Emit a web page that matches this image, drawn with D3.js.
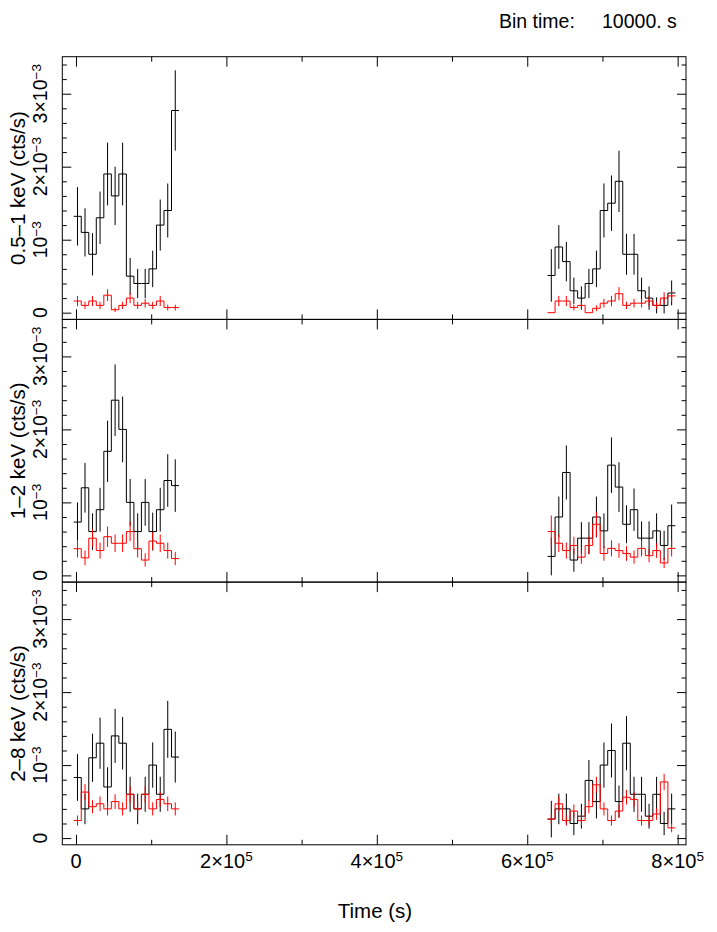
<!DOCTYPE html>
<html>
<head>
<meta charset="utf-8">
<script src="https://cdn.jsdelivr.net/npm/d3@7"></script>
<style>
  body { margin: 0; background: #fff; }
  text { font-family: "Liberation Sans", Arial, Helvetica, sans-serif; fill: #000; }
</style>
</head>
<body>
<div class="chart"></div>
<script>
// bin centres (s), bin size 10000 s, two observing segments
var binTimes = [2000, 12000, 22000, 32000, 42000, 52000, 62000, 72000, 82000, 92000, 102000, 112000, 122000, 132000,
  632000, 642000, 652000, 662000, 672000, 682000, 692000, 702000, 712000, 722000, 732000, 742000, 752000, 762000, 772000, 782000, 792000];
var binSize = 10000;

// rates in units of 1e-3 cts/s ; "src" = black, "bkg" = red
var softSrc = [1.32, 1.10, 0.80, 1.30, 1.90, 1.60, 1.90, 0.50, 0.40, 0.40, 0.60, 1.20, 1.40, 2.77,
  0.51, 0.90, 0.70, 0.30, 0.20, 0.40, 0.60, 1.40, 1.50, 1.80, 0.80, 0.80, 0.30, 0.20, 0.10, 0.10, 0.27];
var softSrcErr = [0.40, 0.33, 0.29, 0.36, 0.43, 0.40, 0.43, 0.25, 0.20, 0.20, 0.25, 0.35, 0.37, 0.55,
  0.36, 0.30, 0.27, 0.18, 0.16, 0.20, 0.25, 0.37, 0.38, 0.42, 0.28, 0.28, 0.18, 0.16, 0.11, 0.11, 0.17];
var softBkg = [0.16, 0.10, 0.16, 0.10, 0.24, 0.04, 0.10, 0.20, 0.10, 0.13, 0.10, 0.16, 0.07, 0.07,
  0.00, 0.16, 0.16, 0.07, 0.10, 0.00, 0.06, 0.13, 0.16, 0.26, 0.10, 0.13, 0.13, 0.16, 0.10, 0.20, 0.23];
var softBkgErr = [0.07, 0.05, 0.07, 0.05, 0.08, 0.03, 0.05, 0.07, 0.05, 0.06, 0.05, 0.07, 0.04, 0.04,
  0.00, 0.07, 0.07, 0.04, 0.05, 0.00, 0.04, 0.06, 0.07, 0.09, 0.05, 0.06, 0.06, 0.07, 0.05, 0.08, 0.08];

var medSrc = [0.73, 1.20, 0.60, 0.90, 1.70, 2.40, 2.00, 1.00, 0.60, 1.00, 0.60, 0.90, 1.30, 1.23,
  0.26, 0.80, 1.41, 0.21, 0.51, 0.51, 0.80, 0.61, 1.51, 1.21, 0.70, 0.90, 0.51, 0.51, 0.61, 0.41, 0.68];
var medSrcErr = [0.27, 0.34, 0.25, 0.30, 0.42, 0.49, 0.45, 0.32, 0.25, 0.32, 0.26, 0.30, 0.36, 0.36,
  0.26, 0.28, 0.37, 0.16, 0.22, 0.22, 0.28, 0.24, 0.38, 0.34, 0.26, 0.29, 0.23, 0.23, 0.24, 0.20, 0.29];
var medBkg = [0.365, 0.24, 0.51, 0.34, 0.53, 0.44, 0.44, 0.60, 0.365, 0.21, 0.47, 0.44, 0.34, 0.23,
  0.60, 0.44, 0.34, 0.41, 0.25, 0.41, 0.70, 0.30, 0.37, 0.34, 0.30, 0.25, 0.37, 0.27, 0.34, 0.17, 0.37];
var medBkgErr = [0.12, 0.10, 0.12, 0.11, 0.14, 0.12, 0.12, 0.13, 0.12, 0.09, 0.12, 0.12, 0.11, 0.09,
  0.22, 0.12, 0.11, 0.12, 0.09, 0.12, 0.17, 0.10, 0.11, 0.10, 0.10, 0.09, 0.11, 0.09, 0.10, 0.07, 0.11];

var hardSrc = [0.83, 0.40, 1.10, 1.30, 0.70, 1.40, 1.30, 0.60, 0.40, 0.60, 1.00, 0.60, 1.49, 1.11,
  0.26, 0.40, 0.40, 0.20, 0.30, 0.79, 0.50, 1.00, 1.20, 0.50, 1.30, 0.60, 0.60, 0.30, 0.60, 0.20, 0.40];
var hardSrcErr = [0.32, 0.21, 0.33, 0.35, 0.27, 0.37, 0.36, 0.24, 0.21, 0.24, 0.31, 0.24, 0.39, 0.35,
  0.25, 0.21, 0.21, 0.16, 0.17, 0.28, 0.23, 0.31, 0.37, 0.22, 0.37, 0.24, 0.24, 0.17, 0.24, 0.16, 0.21];
var hardBkg = [0.24, 0.63, 0.43, 0.47, 0.40, 0.50, 0.40, 0.60, 0.40, 0.60, 0.40, 0.53, 0.47, 0.40,
  0.26, 0.47, 0.24, 0.37, 0.24, 0.43, 0.73, 0.40, 0.24, 0.37, 0.56, 0.53, 0.24, 0.24, 0.33, 0.77, 0.14];
var hardBkgErr = [0.07, 0.11, 0.09, 0.10, 0.09, 0.10, 0.09, 0.11, 0.09, 0.11, 0.09, 0.10, 0.10, 0.09,
  0.07, 0.10, 0.07, 0.09, 0.07, 0.09, 0.11, 0.09, 0.07, 0.09, 0.10, 0.10, 0.07, 0.07, 0.08, 0.11, 0.06];

var bandLabels = ["0.5\u20131 keV (cts/s)", "1\u20132 keV (cts/s)", "2\u20138 keV (cts/s)"];

var xMajor = [0, 200000, 400000, 600000, 800000];
var xMinor = [100000, 300000, 500000, 700000];
var xLabelBase = ["0", "2\u00d710", "4\u00d710", "6\u00d710", "8\u00d710"];
var xLabelExp = ["", "5", "5", "5", "5"];

var yMajor = [0, 1, 2, 3];
var yMinor = [0.2, 0.4, 0.6, 0.8, 1.2, 1.4, 1.6, 1.8, 2.2, 2.4, 2.6, 2.8, 3.2, 3.4];
var yLabelBase = ["0", "10", "2\u00d710", "3\u00d710"];
var yLabelExp = ["", "\u22123", "\u22123", "\u22123"];

var panels = [
  { label: bandLabels[0], src: softSrc, srcErr: softSrcErr, bkg: softBkg, bkgErr: softBkgErr },
  { label: bandLabels[1], src: medSrc, srcErr: medSrcErr, bkg: medBkg, bkgErr: medBkgErr },
  { label: bandLabels[2], src: hardSrc, srcErr: hardSrcErr, bkg: hardBkg, bkgErr: hardBkgErr }
];

var width = 717;
var height = 932;
var left = 62.3, right = 686;
var panelTop = 56.7, panelH = 262.7;

var svg = d3.select(".chart").append("svg")
  .attr("width", width)
  .attr("height", height);

var x = d3.scaleLinear().domain([-18200, 811100]).range([left, right]);

function stepPoints(vals) {
  var pts = [];
  binTimes.forEach(function (t, i) {
    if (i > 0 && t - binTimes[i - 1] > binSize) pts.push(null);
    pts.push([t - binSize / 2, vals[i]]);
    pts.push([t + binSize / 2, vals[i]]);
  });
  return pts;
}

function noLabels(g) {
  g.select(".domain").remove();
  g.selectAll("text").remove();
}

function drawSeries(g, y, vals, errs, colour) {
  var line = d3.line()
    .defined(function (d) { return d !== null; })
    .x(function (d) { return x(d[0]); })
    .y(function (d) { return y(d[1]); });

  g.append("path")
    .datum(stepPoints(vals))
    .attr("d", line)
    .attr("fill", "none")
    .attr("stroke", colour)
    .attr("stroke-width", 1);

  g.selectAll(null)
    .data(binTimes.filter(function (t, i) { return errs[i] > 0; }))
    .enter()
    .append("line")
    .attr("x1", function (t) { return x(t); })
    .attr("x2", function (t) { return x(t); })
    .attr("y1", function (t) { var i = binTimes.indexOf(t); return y(vals[i] - errs[i]); })
    .attr("y2", function (t) { var i = binTimes.indexOf(t); return y(vals[i] + errs[i]); })
    .attr("stroke", colour)
    .attr("stroke-width", 1);
}

panels.forEach(function (p, k) {
  var top = panelTop + k * panelH;
  var bottom = top + panelH;
  var y = d3.scaleLinear().domain([-0.092, 3.507]).range([bottom, top]);
  var g = svg.append("g").attr("class", "panel");

  drawSeries(g, y, p.src, p.srcErr, "#000");
  drawSeries(g, y, p.bkg, p.bkgErr, "#ff0000");

  // inward ticks on all four sides
  g.append("g").attr("transform", "translate(0," + bottom + ")")
    .call(d3.axisBottom(x).tickValues(xMajor).tickSize(-10)).call(noLabels);
  g.append("g").attr("transform", "translate(0," + bottom + ")")
    .call(d3.axisBottom(x).tickValues(xMinor).tickSize(-5)).call(noLabels);
  g.append("g").attr("transform", "translate(0," + top + ")")
    .call(d3.axisTop(x).tickValues(xMajor).tickSize(-10)).call(noLabels);
  g.append("g").attr("transform", "translate(0," + top + ")")
    .call(d3.axisTop(x).tickValues(xMinor).tickSize(-5)).call(noLabels);
  g.append("g").attr("transform", "translate(" + left + ",0)")
    .call(d3.axisLeft(y).tickValues(yMajor).tickSize(-9)).call(noLabels);
  g.append("g").attr("transform", "translate(" + left + ",0)")
    .call(d3.axisLeft(y).tickValues(yMinor).tickSize(-4.5)).call(noLabels);
  g.append("g").attr("transform", "translate(" + right + ",0)")
    .call(d3.axisRight(y).tickValues(yMajor).tickSize(-9)).call(noLabels);
  g.append("g").attr("transform", "translate(" + right + ",0)")
    .call(d3.axisRight(y).tickValues(yMinor).tickSize(-4.5)).call(noLabels);

  g.append("rect")
    .attr("x", left)
    .attr("y", top)
    .attr("width", right - left)
    .attr("height", panelH)
    .attr("fill", "none")
    .attr("stroke", "#000")
    .attr("stroke-width", 1);

  // rotated y tick labels
  yMajor.forEach(function (v, i) {
    var t = g.append("text")
      .attr("transform", "translate(47," + y(v) + ") rotate(-90)")
      .attr("text-anchor", "middle")
      .style("font-size", "19.5px")
      .text(yLabelBase[i]);
    if (yLabelExp[i]) {
      t.append("tspan")
        .attr("dy", "-0.45em")
        .style("font-size", "13.5px")
        .text(yLabelExp[i]);
    }
  });

  g.append("text")
    .attr("transform", "translate(25," + (top + panelH / 2) + ") rotate(-90)")
    .attr("text-anchor", "middle")
    .style("font-size", "20.5px")
    .text(p.label);
});

// x tick labels under the bottom panel
var xLabels = svg.append("g");
xMajor.forEach(function (v, i) {
  var t = xLabels.append("text")
    .attr("x", x(v))
    .attr("y", 868)
    .attr("text-anchor", "middle")
    .style("font-size", "20px")
    .text(xLabelBase[i]);
  if (xLabelExp[i]) {
    t.append("tspan")
      .attr("dy", "-0.5em")
      .style("font-size", "13.5px")
      .text(xLabelExp[i]);
  }
});

svg.append("text")
  .attr("x", 375)
  .attr("y", 918)
  .attr("text-anchor", "middle")
  .style("font-size", "20.5px")
  .text("Time (s)");

svg.append("text")
  .attr("x", 499)
  .attr("y", 28)
  .style("font-size", "19.5px")
  .text("Bin time:");
svg.append("text")
  .attr("x", 602)
  .attr("y", 28)
  .style("font-size", "19.5px")
  .text("10000. s");
</script>
</body>
</html>
